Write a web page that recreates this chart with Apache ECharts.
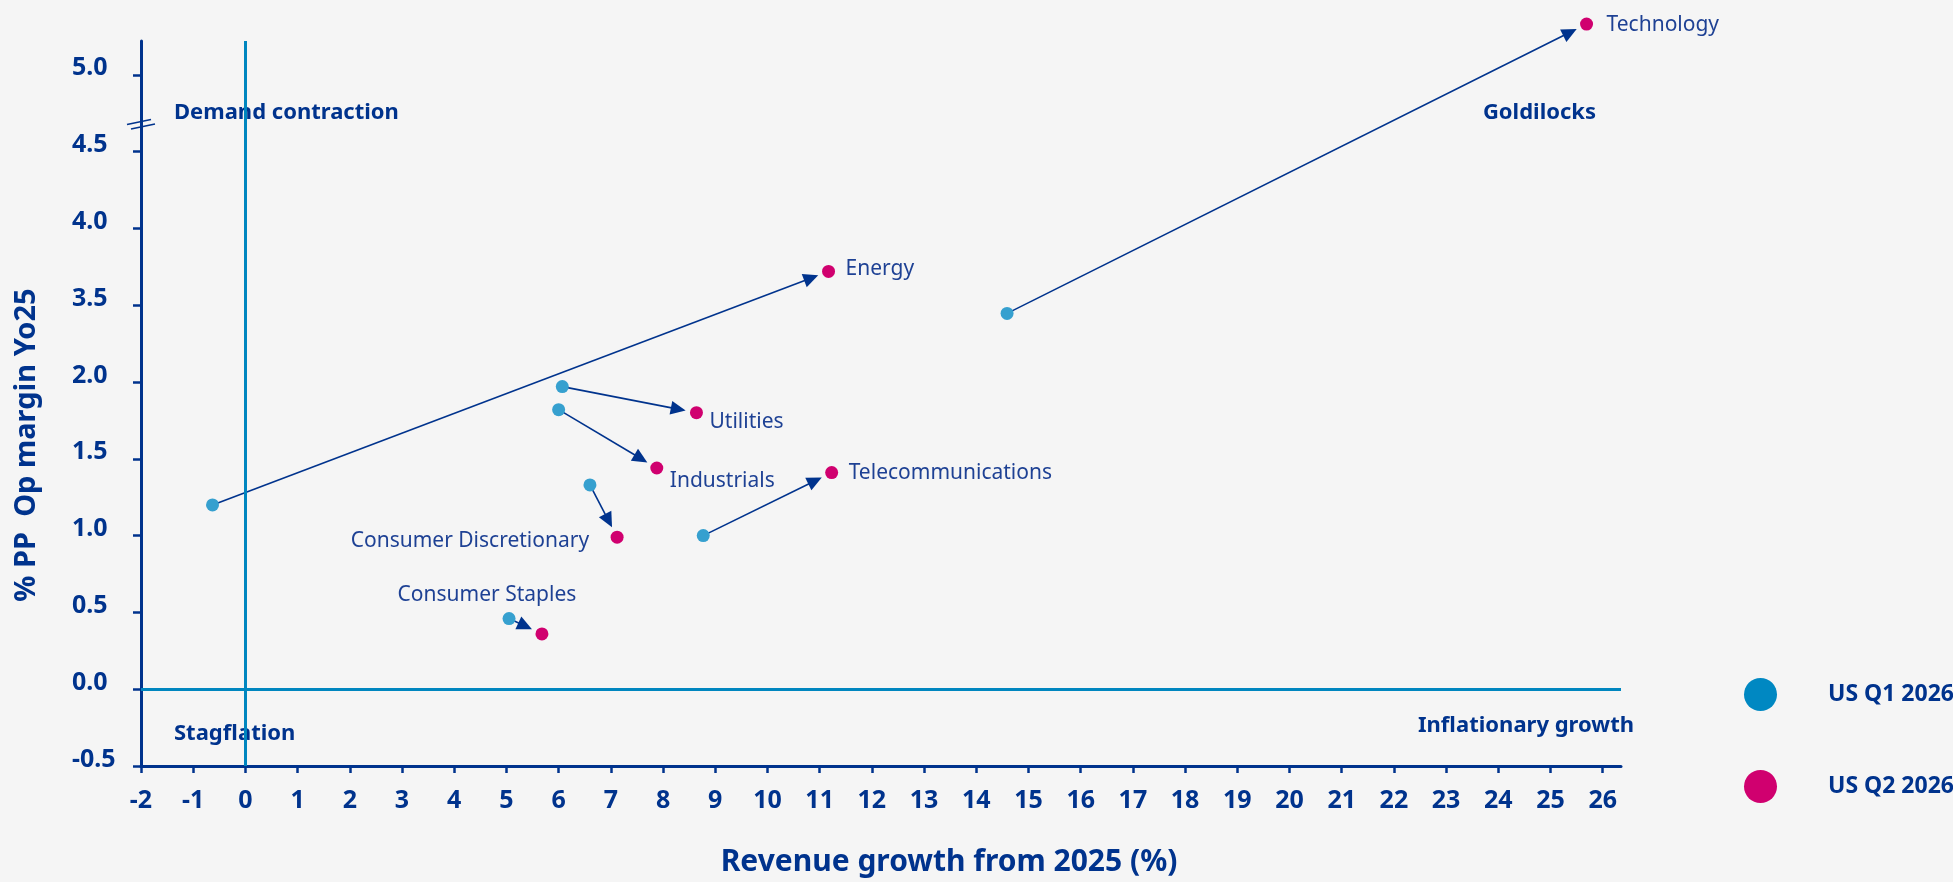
<!DOCTYPE html>
<html>
<head>
<meta charset="utf-8">
<script src="https://cdn.jsdelivr.net/npm/echarts@6/dist/echarts.min.js"></script>
<style>
html,body{margin:0;padding:0;background:#F5F5F5;}
#chart{width:1953px;height:882px;}
</style>
</head>
<body>
<div id="chart"></div>
<script>
// ---- data ----
const sectors = ['Technology', 'Energy', 'Utilities', 'Industrials', 'Telecommunications', 'Consumer Discretionary', 'Consumer Staples'];
const q1Growth = [14.59, -0.63, 6.07, 6.00, 8.77, 6.60, 5.05];
const q1Margin = [3.34, 1.20, 1.97, 1.82, 1.00, 1.33, 0.46];
const q2Growth = [25.69, 11.17, 8.64, 7.88, 11.23, 7.12, 5.68];
const q2Margin = [5.33, 3.72, 1.80, 1.44, 1.41, 0.99, 0.36];
const xTickValues = [-2,-1,0,1,2,3,4,5,6,7,8,9,10,11,12,13,14,15,16,17,18,19,20,21,22,23,24,25,26];
const yTickLabels = ['-0.5','0.0','0.5','1.0','1.5','2.0','3.5','4.0','4.5','5.0'];
const seriesNames = ['US Q1 2026', 'US Q2 2026'];

// ---- styling ----
const NAVY = '#00338D';
const LABEL_NAVY = '#1E4194';
const SKY = '#0086BF';
const Q1_DOT = '#36A0CF';
const Q1_LEG = '#0088C2';
const Q2_COL = '#D0006F';
const FONT = 'Noto Sans';

// broken y axis: the 2.0 -> 3.5 stretch is compressed into one 0.5 step
function toPos(v) {
  if (v <= 2) return v;
  if (v < 3.5) return 2 + (v - 2) / 3;
  return v - 1;
}
const yTickPos = yTickLabels.map((_, i) => -0.5 + i * 0.5);

const labelPlacement = {
  'Technology': { align: 'left', offset: [20, 1] },
  'Energy': { align: 'left', offset: [17, -2] },
  'Utilities': { align: 'left', offset: [13, 9] },
  'Industrials': { align: 'left', offset: [13, 13] },
  'Telecommunications': { align: 'left', offset: [17, 0] },
  'Consumer Discretionary': { align: 'right', offset: [-28, 4] },
  'Consumer Staples': { align: 'center', offset: [-55, -39] }
};

const q1Data = sectors.map((s, i) => ({ name: s, value: [q1Growth[i], toPos(q1Margin[i])] }));
const q2Data = sectors.map((s, i) => ({
  name: s,
  value: [q2Growth[i], toPos(q2Margin[i])],
  label: {
    show: true, position: 'inside', formatter: s,
    align: labelPlacement[s].align, verticalAlign: 'middle',
    offset: labelPlacement[s].offset,
    color: LABEL_NAVY, fontFamily: FONT, fontSize: 21, fontWeight: 'normal'
  }
}));
const arrowData = sectors.map((s, i) => [q1Growth[i], toPos(q1Margin[i]), q2Growth[i], toPos(q2Margin[i])]);

const chart = echarts.init(document.getElementById('chart'), null, { renderer: 'canvas' });

function renderArrow(params, api) {
  const a = api.coord([api.value(0), api.value(1)]);
  const b = api.coord([api.value(2), api.value(3)]);
  const dx = b[0] - a[0], dy = b[1] - a[1];
  const L = Math.hypot(dx, dy);
  const ux = dx / L, uy = dy / L;
  const GAP = 11, HL = 15, HW = 7;
  const tip = [b[0] - ux * GAP, b[1] - uy * GAP];
  const base = [tip[0] - ux * HL, tip[1] - uy * HL];
  const nx = -uy, ny = ux;
  return {
    type: 'group',
    children: [
      { type: 'line', shape: { x1: a[0], y1: a[1], x2: base[0] + ux * 2, y2: base[1] + uy * 2 },
        style: { stroke: NAVY, lineWidth: 1.6 } },
      { type: 'polygon', shape: { points: [tip, [base[0] + nx * HW, base[1] + ny * HW], [base[0] - nx * HW, base[1] - ny * HW]] },
        style: { fill: NAVY } }
    ]
  };
}

const quadText = (text, x, y, align) => ({
  type: 'text', x: x, y: y, silent: true,
  style: { text: text, fill: NAVY, font: 'bold 22px "' + FONT + '"', textAlign: align, textVerticalAlign: 'middle' }
});

chart.setOption({
  backgroundColor: '#F5F5F5',
  animation: false,
  textStyle: { fontFamily: FONT },
  grid: { left: 141, right: 332, top: 41, bottom: 115, containLabel: false },
  xAxis: {
    type: 'value', min: -2, max: 26.35, interval: 1,
    name: 'Revenue growth from 2025 (%)', nameLocation: 'middle', nameGap: 81,
    nameTextStyle: { color: NAVY, fontFamily: FONT, fontSize: 30, fontWeight: 'bold', padding: [0, 0, 0, 136] },
    axisLine: { onZero: false, lineStyle: { color: NAVY, width: 3 } },
    axisTick: { show: true, length: 7, customValues: xTickValues, lineStyle: { color: NAVY, width: 2.5 } },
    axisLabel: { customValues: xTickValues, margin: 22, color: NAVY, fontFamily: FONT, fontSize: 25, fontWeight: 'bold',
      formatter: v => String(Math.round(v)) },
    splitLine: { show: false }
  },
  yAxis: {
    type: 'value', min: -0.5, max: 4.22, interval: 0.5,
    name: '% PP  Op margin Yo25', nameLocation: 'middle', nameRotate: 90, nameGap: 100,
    nameTextStyle: { color: NAVY, fontFamily: FONT, fontSize: 29, fontWeight: 'bold', padding: [0, 83, 0, 0] },
    axisLine: { onZero: false, lineStyle: { color: NAVY, width: 3 } },
    axisTick: { show: true, length: 8, customValues: yTickPos, lineStyle: { color: NAVY, width: 2.5 } },
    axisLabel: { customValues: yTickPos, margin: 69, align: 'left',
      formatter: v => { const i = Math.round((v + 0.5) / 0.5); return '{t|' + (yTickLabels[i] || '') + '}'; },
      rich: { t: { color: NAVY, fontFamily: FONT, fontSize: 25, fontWeight: 'bold', padding: [0, 0, 13, 0] } } },
    splitLine: { show: false }
  },
  legend: {
    orient: 'vertical', left: 1739, top: 673, itemWidth: 33, itemHeight: 33, itemGap: 59, icon: 'circle',
    selectedMode: false,
    data: [
      { name: seriesNames[0], itemStyle: { color: Q1_LEG } },
      { name: seriesNames[1], itemStyle: { color: Q2_COL } }
    ],
    formatter: '{t|{name}}',
    textStyle: { rich: { t: { color: NAVY, fontFamily: FONT, fontSize: 23, fontWeight: 'bold', padding: [0, 0, 0, 46] } } }
  },
  series: [
    {
      type: 'custom', name: 'arrows', renderItem: renderArrow, data: arrowData,
      encode: { x: [0, 2], y: [1, 3] }, z: 2, silent: true, clip: false,
      markLine: {
        silent: true, symbol: ['none', 'none'], animation: false,
        label: { show: false },
        lineStyle: { color: SKY, width: 3, type: 'solid' },
        data: [{ xAxis: 0 }, { yAxis: 0 }]
      }
    },
    {
      type: 'scatter', name: seriesNames[0], data: q1Data, symbol: 'circle', symbolSize: 13,
      itemStyle: { color: Q1_DOT, opacity: 1 }, z: 4, clip: false
    },
    {
      type: 'scatter', name: seriesNames[1], data: q2Data, symbol: 'circle', symbolSize: 13,
      itemStyle: { color: Q2_COL, opacity: 1 }, z: 4, clip: false
    }
  ]
});

// quadrant names and the axis-break mark on the y axis
const bx = chart.convertToPixel({ xAxisIndex: 0 }, -2);
const by = chart.convertToPixel({ yAxisIndex: 0 }, 3.68);
chart.setOption({
  graphic: [
    quadText('Demand contraction', 174, 113, 'left'),
    quadText('Goldilocks', 1596, 113, 'right'),
    quadText('Stagflation', 174, 734, 'left'),
    quadText('Inflationary growth', 1634, 726, 'right'),
    {
      type: 'group', x: bx, y: by, silent: true, z: 100,
      children: [
        { type: 'polygon', shape: { points: [[-5, -1.5], [5, -3.6], [5, 1.5], [-5, 3.6]] }, style: { fill: '#F5F5F5' } },
        { type: 'line', shape: { x1: -14, y1: 0.5, x2: 10, y2: -4.5 }, style: { stroke: NAVY, lineWidth: 1.6 } },
        { type: 'line', shape: { x1: -10, y1: 5, x2: 14, y2: 0 }, style: { stroke: NAVY, lineWidth: 1.6 } }
      ]
    }
  ]
});
</script>
</body>
</html>
